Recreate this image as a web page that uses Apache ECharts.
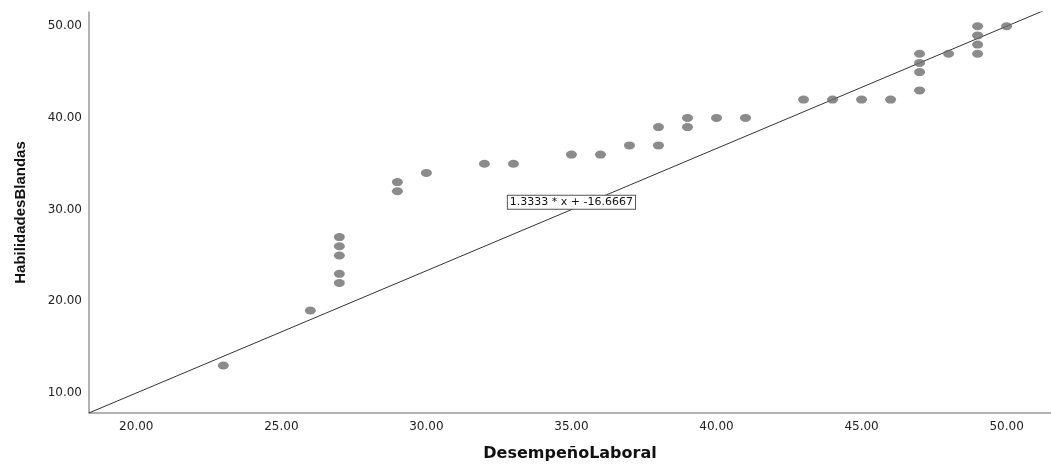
<!DOCTYPE html>
<html>
<head>
<meta charset="utf-8">
<script src="https://cdn.jsdelivr.net/npm/echarts@6/dist/echarts.min.js"></script>
<style>
  html, body { margin: 0; padding: 0; background: #fff; }
  #chart { width: 1051px; height: 464px; }
</style>
</head>
<body>
<div id="chart"></div>
<script>
// puntos: DesempeñoLaboral (x) vs HabilidadesBlandas (y)
var desempeno = [23, 26, 27, 27, 27, 27, 27, 29, 29, 30, 32, 33, 35, 36, 37, 38, 38, 39, 39, 40, 41, 43, 44, 45, 46, 47, 47, 47, 47, 48, 49, 49, 49, 49, 50];
var habilidades = [13, 19, 27, 26, 25, 23, 22, 33, 32, 34, 35, 35, 36, 36, 37, 39, 37, 40, 39, 40, 40, 42, 42, 42, 42, 47, 46, 45, 43, 47, 50, 49, 48, 47, 50];
var xTicks = [20, 25, 30, 35, 40, 45, 50];
var yTicks = [10, 20, 30, 40, 50];
// recta de ajuste
var pendiente = 1.3333;
var intercepto = -16.6667;
var etiquetaAjuste = '1.3333 * x + -16.6667';

var xMin = 18.37, xMax = 51.53;
var yMin = 7.82, yMax = 51.55;

var puntos = [];
for (var i = 0; i < desempeno.length; i++) {
    puntos.push([desempeno[i], habilidades[i]]);
}
var recta = [
    [xMin, pendiente * xMin + intercepto],
    [xMax, pendiente * xMax + intercepto]
];
var xMid = 35;

var chart = echarts.init(document.getElementById('chart'));
var option = {
    animation: false,
    grid: { left: 89, right: 0, top: 12, bottom: 51, outerBoundsMode: 'none' },
    xAxis: {
        type: 'value',
        min: xMin,
        max: xMax,
        name: 'DesempeñoLaboral',
        nameLocation: 'middle',
        nameGap: 33,
        nameTextStyle: { fontFamily: 'DejaVu Sans', fontWeight: 'bold', fontSize: 16, color: '#111' },
        axisLine: { lineStyle: { color: '#999', width: 1.5 } },
        axisTick: { show: false },
        splitLine: { show: false },
        axisLabel: {
            customValues: xTicks,
            margin: 8,
            fontFamily: 'DejaVu Sans',
            fontSize: 12,
            color: '#222',
            formatter: function (v) { return v.toFixed(2); }
        }
    },
    yAxis: {
        type: 'value',
        min: yMin,
        max: yMax,
        name: 'HabilidadesBlandas',
        nameLocation: 'middle',
        nameGap: 61,
        nameTextStyle: { fontFamily: 'Liberation Sans', fontWeight: 'bold', fontSize: 15, color: '#111' },
        axisLine: { show: true, lineStyle: { color: '#999', width: 1.5 } },
        axisTick: { show: false },
        splitLine: { show: false },
        axisLabel: {
            customValues: yTicks,
            margin: 7,
            fontFamily: 'DejaVu Sans',
            fontSize: 12,
            color: '#222',
            formatter: function (v) { return v.toFixed(2); }
        }
    },
    series: [
        {
            type: 'line',
            data: recta,
            symbol: 'none',
            clip: true,
            lineStyle: { color: '#333', width: 1 },
            z: 1,
            markPoint: {
                symbol: 'rect',
                symbolSize: 0,
                data: [{ coord: [xMid, 30.8] }],
                label: {
                    show: true,
                    formatter: etiquetaAjuste,
                    position: 'inside',
                    fontFamily: 'DejaVu Sans',
                    fontSize: 11,
                    color: '#111',
                    backgroundColor: '#fff',
                    borderColor: '#555',
                    borderWidth: 1,
                    padding: [1, 2, 0, 2],
                    lineHeight: 12
                }
            }
        },
        {
            type: 'scatter',
            data: puntos,
            symbol: 'circle',
            symbolSize: [11, 8],
            itemStyle: { color: '#6e6e6e' },
            z: 2
        }
    ]
};
chart.setOption(option);
</script>
</body>
</html>
